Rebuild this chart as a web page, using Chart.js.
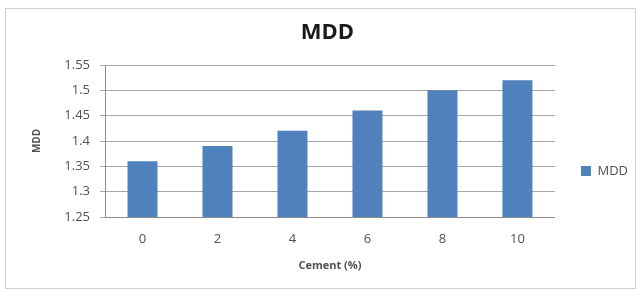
<!DOCTYPE html>
<html>
<head>
<meta charset="utf-8">
<script src="https://cdn.jsdelivr.net/npm/chart.js@4.4.1/dist/chart.umd.min.js"></script>
<style>
  body { margin: 0; background: #fff; }
  canvas { display: block; }
</style>
</head>
<body>
<canvas id="myChart" width="642" height="289"></canvas>
<script>
const categories = ["0", "2", "4", "6", "8", "10"];
const mddValues = [1.36, 1.39, 1.42, 1.46, 1.50, 1.52];
const yMin = 1.25;
const yMax = 1.55;
const yStep = 0.05;

const textColor = "#505050";

// white page + thin grey frame like the excel chart box
const frame = {
    id: "frame",
    beforeDraw(chart) {
        const c = chart.ctx;
        c.save();
        c.fillStyle = "#fff";
        c.fillRect(0, 0, chart.width, chart.height);
        c.strokeStyle = "#cfcfcf";
        c.lineWidth = 1;
        c.strokeRect(5.5, 8.5, 630, 280);
        c.restore();
    }
};

const ctx = document.getElementById("myChart").getContext("2d");

const myChart = new Chart(ctx, {
    type: "bar",
    data: {
        labels: categories,
        datasets: [{
            label: "MDD",
            data: mddValues,
            backgroundColor: "#4f81bd",
            barPercentage: 0.4,
            categoryPercentage: 1,
        }],
    },
    options: {
        responsive: false,
        animation: false,
        layout: { padding: { left: 17, right: 4, top: 8, bottom: 0 } },
        plugins: {
            title: {
                display: true,
                text: "MDD",
                color: "#1a1a1a",
                font: { family: "Open Sans", size: 22, weight: "bold", lineHeight: 1.2 },
                padding: { top: 12, bottom: 18.6 },
            },
            legend: {
                position: "right",
                title: { display: true, text: "", font: { size: 12, lineHeight: 1.2 }, padding: { top: 30.6, bottom: 0 } },
                labels: {
                    boxWidth: 10,
                    boxHeight: 10,
                    padding: 10,
                    color: textColor,
                    font: { family: "Open Sans", size: 13 },
                },
            },
            tooltip: { enabled: false },
        },
        scales: {
            x: {
                grid: { display: false, drawTicks: false },
                border: { color: "#8c8c8c" },
                ticks: { color: textColor, padding: 14, font: { family: "Open Sans", size: 13 } },
                title: {
                    display: true,
                    text: "Cement (%)",
                    color: textColor,
                    font: { family: "Open Sans", size: 11, weight: "bold", lineHeight: 1.2 },
                    padding: { top: 0, bottom: 16.4 },
                },
                afterFit: s => { s.height = 72; },
            },
            y: {
                min: yMin,
                max: yMax,
                grid: { color: "#a6a6a6", tickLength: 5 },
                border: { color: "#8c8c8c" },
                ticks: {
                    stepSize: yStep,
                    padding: 10,
                    color: textColor,
                    font: { family: "Open Sans", size: 13 },
                    callback: v => String(+v.toFixed(2)),
                },
                title: {
                    display: true,
                    text: "MDD",
                    color: textColor,
                    font: { family: "Open Sans", size: 10, weight: "bold", lineHeight: 1.2 },
                    padding: { top: 14, bottom: 0 },
                },
                afterFit: s => { s.width = 88; },
            },
            // empty spacer between plot area and legend
            spacer: {
                type: "linear",
                position: "right",
                display: true,
                grid: { display: false },
                border: { display: false },
                ticks: { display: false },
                afterFit: s => { s.width = 16; },
            },
        },
    },
    plugins: [frame],
});
</script>
</body>
</html>
